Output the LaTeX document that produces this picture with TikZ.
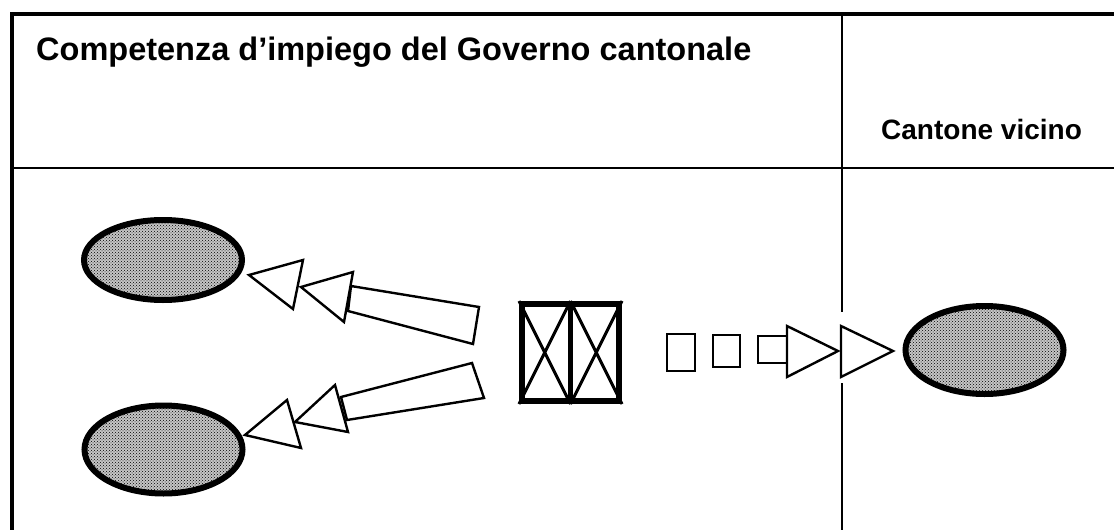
\documentclass[tikz,border=0pt]{standalone}
\usepackage{fontspec}
\setmainfont{Liberation Sans}
\usetikzlibrary{shapes.geometric, patterns, positioning}

\tikzset{
    canton/.style={ellipse, draw, line width=6pt, fill=gray!45, postaction={pattern=crosshatch dots},
        inner sep=0pt, minimum width=158pt, minimum height=88pt},
    fat/.style={draw, line width=2.4pt, line join=miter, fill=white},
}

\begin{document}
\begin{tikzpicture}[x=1pt, y=-1pt]
    \useasboundingbox (0,0) rectangle (1114,530);
    % griglia
    \draw[line width=4pt] (1114,14) -- (12,14) -- (12,530);
    \draw[line width=2.2pt] (12,168) -- (1114,168);
    \draw[line width=2pt] (842,14) -- (842,312);
    \draw[line width=2pt] (842,383) -- (842,530);
    \node[anchor=base west, inner sep=0pt] (governo) at (36,60) {\bfseries\fontsize{32.5}{38}\selectfont Competenza d’impiego del Governo cantonale};
    \node[anchor=base west, inner sep=0pt] (vicino) at (881,139) {\bfseries\fontsize{28}{34}\selectfont Cantone vicino};

    % cantoni
    \node[canton, minimum height=80pt] (cantonA) at (163,260) {};
    \node[canton] (cantonB) at (163.5,449.5) {};
    \node[canton] (cantonC) at (984.5,350) {};

    % unita
    \node[draw, line width=6pt, minimum width=97pt, minimum height=97pt, inner sep=0pt] (unit) at (570.5,352.5) {};
    \draw[line width=5pt] (unit.north) -- (unit.south);
    \draw[line width=3pt] (unit.north west) -- (unit.south) (unit.north) -- (unit.south west);
    \draw[line width=3pt] (unit.north) -- (unit.south east) (unit.north east) -- (unit.south);

    % frecce verso sinistra
    \draw[fat] (479,307) -- (351,286) -- (348,311) -- (473,344) -- cycle;
    \draw[fat] (353,272) -- (344,322) -- (301,287) -- cycle;
    \draw[fat] (303,260) -- (293,309) -- (249,275) -- cycle;
    \draw[fat] (472,363) -- (484,398) -- (347,420) -- (341,397) -- cycle;
    \draw[fat] (335,385) -- (348,432) -- (295,422) -- cycle;
    \draw[fat] (287,400) -- (301,448) -- (245,435) -- cycle;

    % freccia verso il cantone vicino
    \draw[fat] (667,334) rectangle (695,371);
    \draw[fat] (713,335) rectangle (740,367);
    \draw[fat] (758,336) rectangle (787,363);
    \draw[fat] (787,326) -- (838,351) -- (787,377) -- cycle;
    \draw[fat] (841,326) -- (893,351) -- (841,377) -- cycle;
\end{tikzpicture}
\end{document}
